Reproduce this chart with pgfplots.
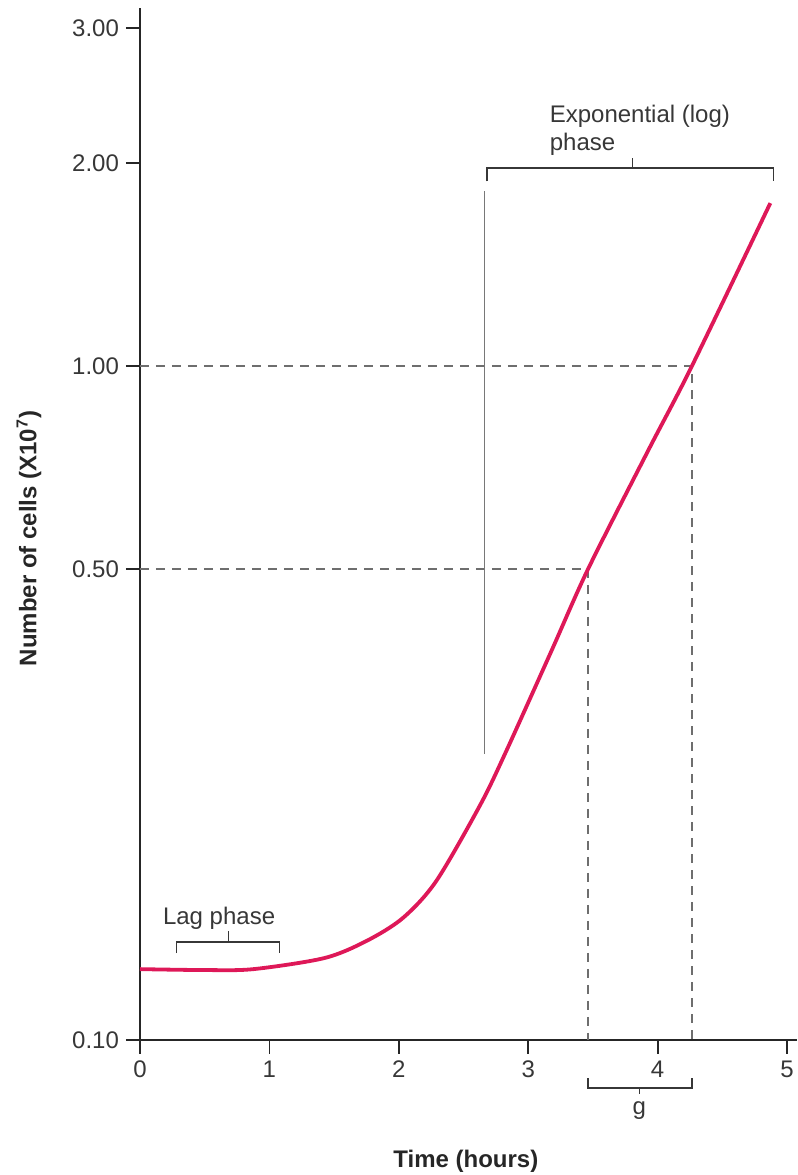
\documentclass[border=0pt]{standalone}
\usepackage{fontspec}
\setmainfont{Liberation Sans}
\usepackage{pgfplots}
\pgfplotsset{compat=1.18}
\definecolor{curvered}{RGB}{222,24,88}
\definecolor{txtgray}{RGB}{55,55,55}
\definecolor{dashgray}{RGB}{110,110,110}
\definecolor{linegray}{RGB}{120,120,120}
\begin{document}
\begin{tikzpicture}
\useasboundingbox (-70pt,-67.5pt) rectangle (329pt,520pt);
\begin{axis}[
  at={(0pt,0pt)}, anchor=south west,
  scale only axis, width=328.5pt, height=516pt,
  ymode=log, xmin=0, xmax=5.077, ymin=0.1, ymax=3.398,
  axis lines=left,
  axis line style={-, line width=0.9pt, black!85},
  xtick={0,1,2,3,4,5},
  ytick={0.1,0.5,1,2,3.17},
  yticklabels={0.10,0.50,1.00,2.00,3.00},
  yminorticks=false,
  tick align=outside, major tick length=7pt,
  tick style={line width=0.9pt, black!85},
  ticklabel style={font=\fontsize{12}{14}\selectfont, text=txtgray},
  /pgf/number format/assume math mode=true,
  xlabel={Time (hours)},
  ylabel={Number of cells (X10\textsuperscript{7})},
  label style={font=\fontsize{12}{14}\selectfont\bfseries, text=black!85},
  xlabel style={at={(axis description cs:0.496,-0.1172)}, anchor=center},
  ylabel style={at={(axis description cs:-0.169,0.486)}, anchor=center},
  clip=false,
]
% dashed guide lines (doubling time)
\addplot[dashgray, line width=0.8pt, dash pattern=on 4.5pt off 3.5pt]
  coordinates {(0,1) (4.265,1) (4.265,0.1)};
\addplot[dashgray, line width=0.8pt, dash pattern=on 4.5pt off 3.5pt]
  coordinates {(0,0.5) (3.463,0.5) (3.463,0.1)};
% vertical marker line at start of log phase
\addplot[linegray, line width=0.7pt] coordinates {(2.664,1.818) (2.664,0.2657)};
% growth curve
\addplot[curvered, line width=1.9pt, smooth, tension=0.5] coordinates {
  (0,0.1274) (0.500,0.1270) (0.877,0.1274) (1.424,0.1323)
  (1.748,0.1402) (2.031,0.1517) (2.289,0.1721) (2.625,0.2225)
  (2.820,0.2657) (3.179,0.3777) (3.463,0.5000) (3.925,0.7480) (4.265,1.000)
  (4.871,1.745)
};
% lag phase bracket
\addplot[txtgray, line width=0.7pt] coordinates {(0.281,0.1346) (0.281,0.1398) (1.079,0.1398) (1.079,0.1346)};
\addplot[txtgray, line width=0.7pt] coordinates {(0.684,0.1398) (0.684,0.1451)};
\node[anchor=west, inner sep=0pt, text=txtgray, font=\fontsize{12}{14}\selectfont] at (axis cs:0.175,0.1517) {Lag phase};
% exponential phase bracket
\addplot[txtgray, line width=0.7pt] coordinates {(2.680,1.88) (2.680,1.967) (4.894,1.967) (4.894,1.88)};
\addplot[txtgray, line width=0.7pt] coordinates {(3.806,1.967) (3.806,2.035)};
\node[anchor=west, inner sep=0pt, text=txtgray, font=\fontsize{12}{14}\selectfont] at (axis cs:3.164,2.349) {Exponential (log)};
\node[anchor=west, inner sep=0pt, text=txtgray, font=\fontsize{12}{14}\selectfont] at (axis cs:3.164,2.135) {phase};
% generation time bracket
\addplot[txtgray, line width=0.7pt] coordinates {(3.463,0.0878) (3.463,0.0849) (4.265,0.0849) (4.265,0.0878)};
\addplot[txtgray, line width=0.7pt] coordinates {(3.858,0.0849) (3.858,0.0832)};
\node[anchor=center, inner sep=0pt, text=txtgray, font=\fontsize{12}{14}\selectfont] at (axis cs:3.858,0.0785) {g};
\end{axis}
\end{tikzpicture}
\end{document}
